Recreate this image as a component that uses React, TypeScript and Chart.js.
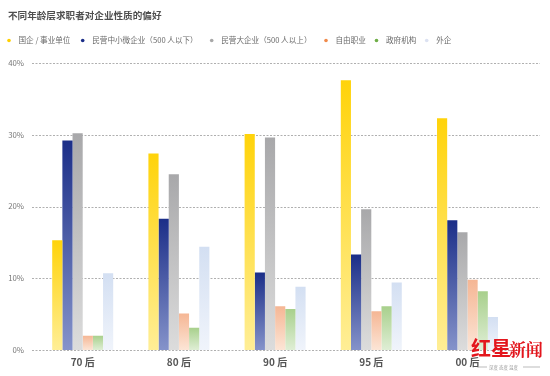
import React, { useEffect, useRef } from "react";
import { Chart, registerables } from "chart.js";

Chart.register(...registerables);

const TITLE = "不同年龄层求职者对企业性质的偏好";
const categories = ["70 后", "80 后", "90 后", "95 后", "00 后"];
const seriesNames = ["国企 / 事业单位", "民营中小微企业（500 人以下）", "民营大企业（500 人以上）", "自由职业", "政府机构", "外企"];
const stateOwned = [15.3, 27.4, 30.1, 37.6, 32.3];
const privateSmall = [29.2, 18.3, 10.8, 13.3, 18.1];
const privateLarge = [30.2, 24.5, 29.6, 19.6, 16.4];
const freelance = [2.0, 5.1, 6.1, 5.4, 9.8];
const government = [2.0, 3.1, 5.7, 6.1, 8.2];
const foreign = [10.7, 14.4, 8.8, 9.4, 4.6];
const yTicks = [0, 10, 20, 30, 40];

const seriesValues = [stateOwned, privateSmall, privateLarge, freelance, government, foreign];
const gradTop = ["#FFD30A", "#1B2E88", "#A8A8AA", "#F5B694", "#A8D08C", "#D3DFF2"];
const gradBottom = ["#FFEE96", "#8593CA", "#DCDCDC", "#FCE5D6", "#DFEED5", "#F0F4FB"];
const legendDot = ["#FFD000", "#1B2E88", "#A8A8A8", "#F08A4B", "#6FAE47", "#DCE2F2"];
const legendDotX = [9, 82.7, 211.7, 326, 376.5, 426.7];

const FONT = "'Noto Sans CJK SC', 'Noto Sans', sans-serif";

export default function App() {
  const ref = useRef<HTMLCanvasElement | null>(null);
  useEffect(() => {
    document.body.style.margin = "0";
    document.body.style.overflow = "hidden";
    const canvas = ref.current;
    if (!canvas) return;

    const gridPlugin = {
      id: "extGrid",
      beforeDatasetsDraw(chart: any) {
        const c = chart.ctx;
        const ys = chart.scales.y;
        c.save();
        c.strokeStyle = "#b0b0b0";
        c.lineWidth = 1;
        c.setLineDash([2, 1.5]);
        yTicks.forEach((t) => {
          const y = Math.round(ys.getPixelForValue(t)) + 0.5;
          c.beginPath();
          c.moveTo(32, y);
          c.lineTo(540, y);
          c.stroke();
        });
        c.restore();
      },
    };

    const headerPlugin = {
      id: "header",
      afterDraw(chart: any) {
        const c = chart.ctx;
        c.save();
        c.textBaseline = "middle";
        c.textAlign = "left";
        c.fillStyle = "#4f4f4f";
        c.font = `bold 9.6px ${FONT}`;
        c.fillText(TITLE, 8, 15);
        c.font = `7.6px ${FONT}`;
        seriesNames.forEach((name, i) => {
          const x = legendDotX[i];
          c.fillStyle = legendDot[i];
          c.beginPath();
          c.arc(x, 40.5, 1.8, 0, Math.PI * 2);
          c.fill();
          c.fillStyle = "#6a6a6a";
          c.fillText(name, x + 9.5, 40.5);
        });
        // watermark
        c.fillStyle = "#E3161D";
        c.font = `bold 20px ${FONT}`;
        c.fillText("红星", 471, 348);
        c.font = `bold 17px 'Noto Serif CJK SC', ${FONT}`;
        c.fillText("新闻", 509, 350);
        c.fillStyle = "#9a9a9a";
        c.font = `4.5px ${FONT}`;
        c.fillText("深度 态度 温度", 489, 367);
        c.strokeStyle = "#aaaaaa";
        c.lineWidth = 0.8;
        c.beginPath();
        c.moveTo(478, 367);
        c.lineTo(487, 367);
        c.moveTo(523, 367);
        c.lineTo(540, 367);
        c.stroke();
        c.restore();
      },
    };

    const datasets = seriesNames.map((name, i) => ({
      label: name,
      data: seriesValues[i],
      backgroundColor: (ctx: any) => {
        const chart = ctx.chart;
        if (ctx.type !== "data" || !chart.chartArea) return gradTop[i];
        const ys = chart.scales.y;
        const top = ys.getPixelForValue(ctx.raw);
        const base = ys.getPixelForValue(0);
        if (!isFinite(top) || !isFinite(base) || top === base) return gradTop[i];
        const g = chart.ctx.createLinearGradient(0, top, 0, base);
        g.addColorStop(0, gradTop[i]);
        g.addColorStop(1, gradBottom[i]);
        return g;
      },
      borderWidth: 0,
      barPercentage: 1,
      categoryPercentage: 0.634,
    }));

    const chart = new Chart(canvas, {
      type: "bar",
      data: { labels: categories, datasets },
      options: {
        responsive: false,
        animation: false,
        layout: { padding: { top: 63, left: 0, right: 34.4, bottom: 0 } },
        plugins: {
          legend: { display: false },
          title: { display: false },
          tooltip: { enabled: false },
        },
        scales: {
          x: {
            grid: { display: false, drawTicks: false },
            border: { display: false },
            ticks: {
              color: "#555",
              font: { family: FONT, size: 10, weight: "bold" },
              padding: 6,
            },
            afterFit: (s: any) => {
              s.height = 26;
            },
          },
          y: {
            min: 0,
            max: 40,
            grid: { display: false, drawTicks: false },
            border: { display: false },
            afterBuildTicks: (s: any) => {
              s.ticks = yTicks.map((v) => ({ value: v }));
            },
            ticks: {
              color: "#777",
              font: { family: FONT, size: 7.8 },
              padding: 10.6,
              callback: (v: any) => `${v}%`,
            },
            afterFit: (s: any) => {
              s.width = 34.6;
            },
          },
        },
      },
      plugins: [gridPlugin, headerPlugin],
    });
    return () => chart.destroy();
  }, []);

  return (
    <div style={{ width: 550, height: 376, background: "#fff" }}>
      <canvas ref={ref} width={550} height={376} style={{ display: "block" }} />
    </div>
  );
}
